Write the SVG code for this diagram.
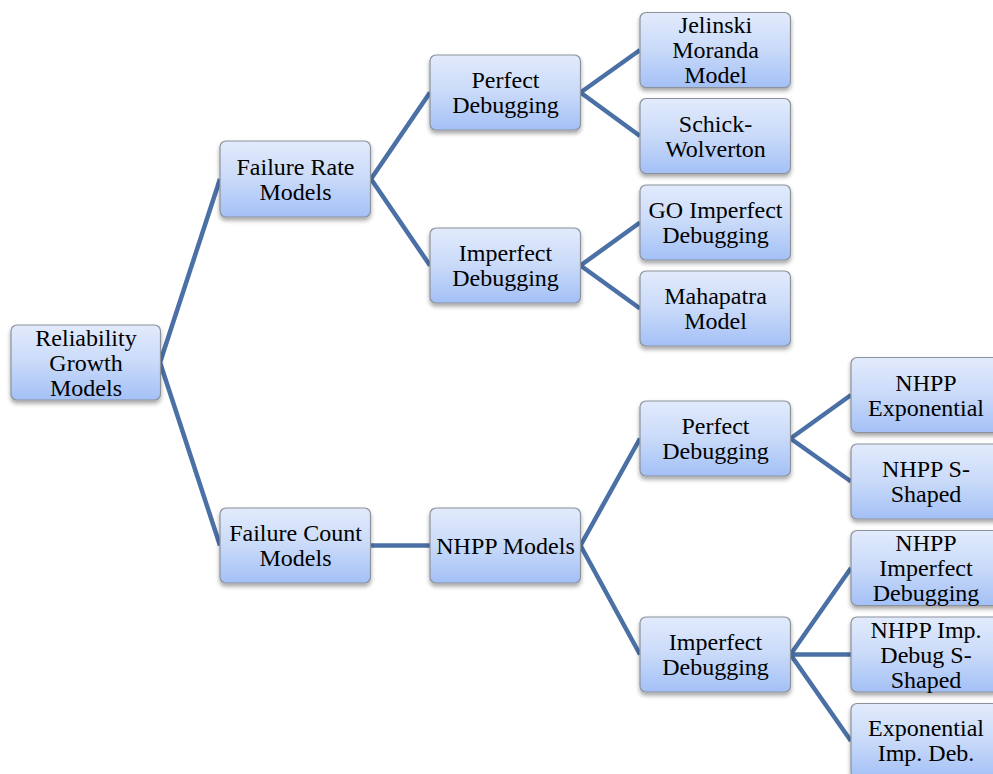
<svg xmlns="http://www.w3.org/2000/svg" width="993" height="774" viewBox="0 0 993 774">
<style>
.box{fill:url(#g);stroke:#8c929c;stroke-width:1.2;filter:url(#sh)}
.t{font-family:"Liberation Serif","Times New Roman",serif;font-size:24px;fill:#000;text-anchor:middle}
.c{stroke:#4a70a6;stroke-width:4.5;fill:none;stroke-linecap:butt}
</style>
<defs>
<linearGradient id="g" x1="0" y1="0" x2="0" y2="1">
<stop offset="0" stop-color="#e2ebfc"/>
<stop offset="0.5" stop-color="#c9daf9"/>
<stop offset="1" stop-color="#a3c0f6"/>
</linearGradient>
<filter id="sh" x="-10%" y="-10%" width="120%" height="130%">
<feDropShadow dx="0" dy="3" stdDeviation="2.2" flood-color="#000" flood-opacity="0.35"/>
</filter>
</defs>
<g id="connectors">
<path class="c" d="M160,362.5 L220,179 M160,362.5 L220,545.5"/>
<path class="c" d="M371,179 L430,92.5 M371,179 L430,265.5"/>
<path class="c" d="M371,545.5 L430,545.5"/>
<path class="c" d="M580.5,92.5 L640,50 M580.5,92.5 L640,136"/>
<path class="c" d="M580.5,265.5 L640,222.5 M580.5,265.5 L640,308.5"/>
<path class="c" d="M580.5,545.5 L640,438.5 M580.5,545.5 L640,654.5"/>
<path class="c" d="M790.5,438.5 L851,395 M790.5,438.5 L851,481.5"/>
<path class="c" d="M790.5,654.5 L851,568 M790.5,654.5 L851,654.5 M790.5,654.5 L851,741"/>
</g>
<g id="root"><rect class="box" x="11" y="325" width="149.5" height="75" rx="6"/>
<text class="t" x="86" y="345.5">Reliability</text><text class="t" x="86" y="370.5">Growth</text><text class="t" x="86" y="395.5">Models</text></g>
<g id="failRate"><rect class="box" x="220" y="141" width="150.5" height="76" rx="6"/>
<text class="t" x="295.5" y="174.5">Failure Rate</text><text class="t" x="295.5" y="199.5">Models</text></g>
<g id="failCount"><rect class="box" x="220" y="508" width="150.5" height="75" rx="6"/>
<text class="t" x="295.5" y="541">Failure Count</text><text class="t" x="295.5" y="566">Models</text></g>
<g id="perf1"><rect class="box" x="430" y="55" width="150.5" height="75" rx="6"/>
<text class="t" x="505.5" y="88">Perfect</text><text class="t" x="505.5" y="113">Debugging</text></g>
<g id="imperf1"><rect class="box" x="430" y="228" width="150.5" height="75" rx="6"/>
<text class="t" x="505.5" y="261">Imperfect</text><text class="t" x="505.5" y="286">Debugging</text></g>
<g id="nhppModels"><rect class="box" x="430" y="508" width="150.5" height="75" rx="6"/>
<text class="t" x="505.5" y="553.5">NHPP Models</text></g>
<g id="jelinski"><rect class="box" x="640" y="12.5" width="150.5" height="75" rx="6"/>
<text class="t" x="715.5" y="33">Jelinski</text><text class="t" x="715.5" y="58">Moranda</text><text class="t" x="715.5" y="83">Model</text></g>
<g id="schick"><rect class="box" x="640" y="98.5" width="150.5" height="75" rx="6"/>
<text class="t" x="715.5" y="131.5">Schick-</text><text class="t" x="715.5" y="156.5">Wolverton</text></g>
<g id="goImperfect"><rect class="box" x="640" y="185" width="150.5" height="75" rx="6"/>
<text class="t" x="715.5" y="218">GO Imperfect</text><text class="t" x="715.5" y="243">Debugging</text></g>
<g id="mahapatra"><rect class="box" x="640" y="271" width="150.5" height="75" rx="6"/>
<text class="t" x="715.5" y="304">Mahapatra</text><text class="t" x="715.5" y="329">Model</text></g>
<g id="perf2"><rect class="box" x="640" y="401" width="150.5" height="75" rx="6"/>
<text class="t" x="715.5" y="434">Perfect</text><text class="t" x="715.5" y="459">Debugging</text></g>
<g id="imperf2"><rect class="box" x="640" y="617" width="150.5" height="75" rx="6"/>
<text class="t" x="715.5" y="650">Imperfect</text><text class="t" x="715.5" y="675">Debugging</text></g>
<g id="nhppExp"><rect class="box" x="851" y="357.5" width="150.5" height="75" rx="6"/>
<text class="t" x="926" y="390.5">NHPP</text><text class="t" x="926" y="415.5">Exponential</text></g>
<g id="nhppS"><rect class="box" x="851" y="444" width="150.5" height="75" rx="6"/>
<text class="t" x="926" y="477">NHPP S-</text><text class="t" x="926" y="502">Shaped</text></g>
<g id="nhppImp"><rect class="box" x="851" y="530.5" width="150.5" height="75" rx="6"/>
<text class="t" x="926" y="551">NHPP</text><text class="t" x="926" y="576">Imperfect</text><text class="t" x="926" y="601">Debugging</text></g>
<g id="nhppImpS"><rect class="box" x="851" y="617" width="150.5" height="75" rx="6"/>
<text class="t" x="926" y="637.5">NHPP Imp.</text><text class="t" x="926" y="662.5">Debug S-</text><text class="t" x="926" y="687.5">Shaped</text></g>
<g id="expImp"><rect class="box" x="851" y="703.5" width="150.5" height="75" rx="6"/>
<text class="t" x="926" y="736">Exponential</text><text class="t" x="926" y="761">Imp. Deb.</text></g>
</svg>
